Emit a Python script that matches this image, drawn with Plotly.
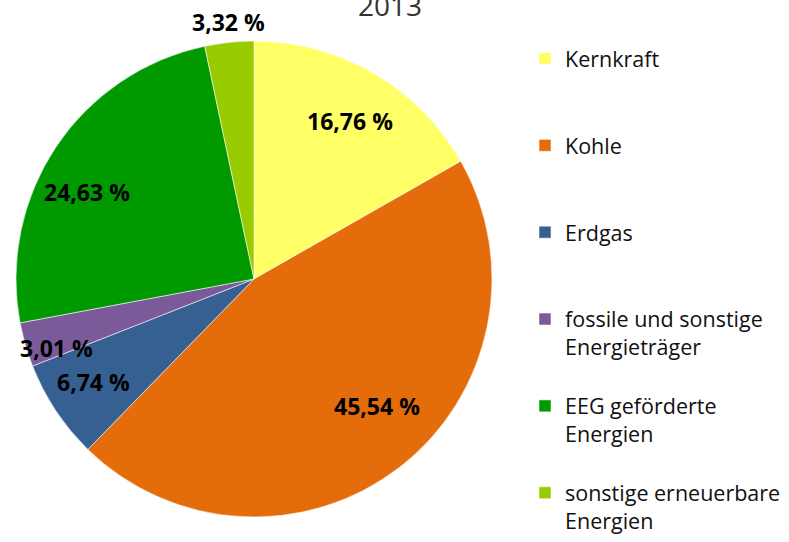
import math
import plotly.graph_objects as go

# ---- data ----
categories = ["Kernkraft", "Kohle", "Erdgas", "fossile und sonstige<br>Energieträger",
              "EEG geförderte<br>Energien", "sonstige erneuerbare<br>Energien"]
values = [16.76, 45.54, 6.74, 3.01, 24.63, 3.32]
value_labels = ["16,76 %", "45,54 %", "6,74 %", "3,01 %", "24,63 %", "3,32 %"]
colors = ["#FFFF66", "#E46C0A", "#376092", "#7A5A98", "#009A00", "#99CC00"]
title_text = "2013"

# ---- layout constants ----
W, H = 789, 542
cx_px, cy_px, r_px = 254, 279, 238          # pie centre / radius in pixels
label_radius = [0.777, 0.744, 0.80, 0.878, 0.79, 1.084]  # label distance (fraction of radius)
label_angle_shift = [1.1, -6.4, 0.8, -3.3, -6.2, 0.4]    # degrees, label nudge

# legend labels padded to a uniform 3-line height (last entry left unpadded)
def pad(lbl, last=False):
    n = lbl.count("<br>") + 1
    return lbl if last else lbl + "<br>\u00a0" * (3 - n)

legend_labels = [pad(c, i == len(categories) - 1) for i, c in enumerate(categories)]

fig = go.Figure()
fig.add_trace(go.Pie(
    labels=legend_labels,
    values=values,
    sort=False,
    direction="clockwise",
    rotation=0,
    textinfo="none",
    hoverinfo="label+percent",
    marker=dict(colors=colors, line=dict(color="rgba(255,255,255,0.55)", width=1)),
    domain=dict(x=[(cx_px - r_px) / W, (cx_px + r_px) / W],
                y=[1 - (cy_px + r_px) / H, 1 - (cy_px - r_px) / H]),
))

# value labels positioned from cumulative slice angles
total = sum(values)
cum = 0.0
annotations = []
for v, txt, f, da in zip(values, value_labels, label_radius, label_angle_shift):
    mid = (cum + v / 2) / total * 2 * math.pi + math.radians(da)
    cum += v
    px = cx_px + f * r_px * math.sin(mid)
    py = cy_px - f * r_px * math.cos(mid)
    annotations.append(dict(
        x=px / W, y=1 - py / H, xref="paper", yref="paper",
        text=f"<b>{txt}</b>", showarrow=False,
        font=dict(family="Open Sans", size=23, color="#000000"),
        xanchor="center", yanchor="middle"))

annotations.append(dict(
    x=390 / W, y=1 - 26 / H, xref="paper", yref="paper", text=title_text,
    showarrow=False, font=dict(family="Open Sans", size=28, color="#333333"),
    xanchor="center", yanchor="bottom"))

fig.update_layout(
    width=W, height=H,
    margin=dict(l=0, r=0, t=0, b=0),
    paper_bgcolor="white", plot_bgcolor="white",
    showlegend=True,
    legend=dict(x=525 / W, y=0, xanchor="left", yanchor="bottom",
                valign="top", font=dict(family="Open Sans", size=21.5, color="#111111"),
                bgcolor="rgba(0,0,0,0)", tracegroupgap=0),
    annotations=annotations,
)

fig.write_html("out.html", config={"displayModeBar": False},
               post_script="document.body.style.margin='0';document.body.style.padding='0';")
